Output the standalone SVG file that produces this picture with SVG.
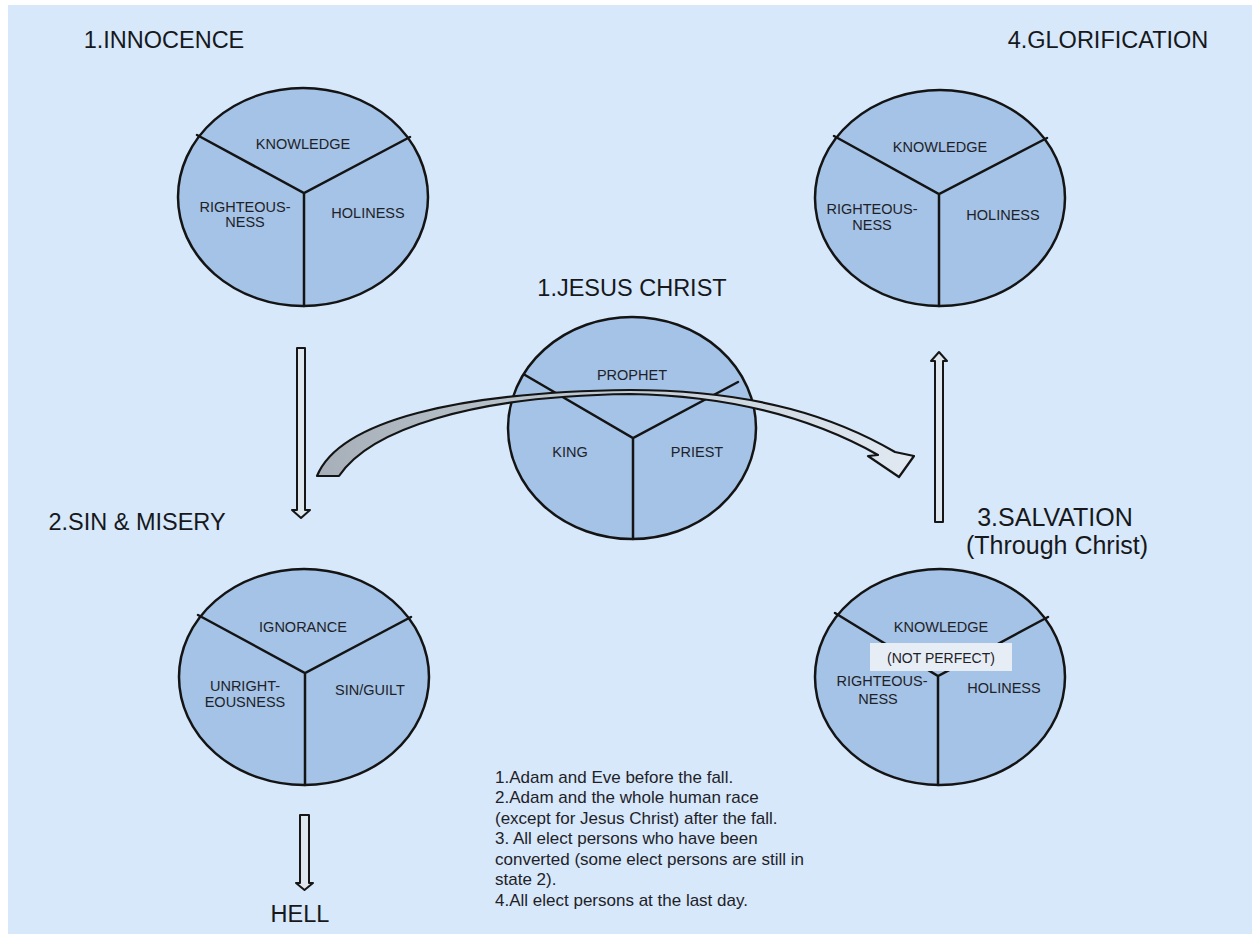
<svg xmlns="http://www.w3.org/2000/svg" width="1252" height="934" viewBox="0 0 1252 934">
<defs>
<style>
.bg{fill:#d7e8fa}
.c{fill:#a4c3e6;stroke:#141414;stroke-width:2.5}
.d{stroke:#141414;stroke-width:2.5;fill:none;stroke-linecap:round}
.lbl{font-family:"Liberation Sans",Arial,sans-serif;font-size:14.5px;fill:#1e2228;text-anchor:middle}
.ttl{font-family:"Liberation Sans",Arial,sans-serif;font-size:23.5px;fill:#16181c;text-anchor:middle}
.note{font-family:"Liberation Sans",Arial,sans-serif;font-size:17px;fill:#1e2228}
.ha{fill:#dfe7ef;stroke:#161616;stroke-width:2;stroke-linejoin:round}
.box{fill:#e6edf4}
</style>
<linearGradient id="cg" gradientUnits="userSpaceOnUse" x1="317" y1="0" x2="915" y2="0">
<stop offset="0" stop-color="#a7b0b8"/>
<stop offset="0.35" stop-color="#b9c3cc"/>
<stop offset="1" stop-color="#e1eaf3"/>
</linearGradient>
</defs>
<rect class="bg" x="8" y="5" width="1244" height="929"/>

<g id="title-innocence"><text class="ttl" x="164" y="48">1.INNOCENCE</text></g>
<g id="title-glorification"><text class="ttl" x="1108" y="48">4.GLORIFICATION</text></g>
<g id="title-jesus"><text class="ttl" x="632" y="296">1.JESUS CHRIST</text></g>
<g id="title-sin"><text class="ttl" x="137" y="530">2.SIN &amp; MISERY</text></g>
<g id="title-salvation"><text class="ttl" x="1055" y="526" style="font-size:25px">3.SALVATION</text><text class="ttl" x="1057" y="554" style="font-size:25px">(Through Christ)</text></g>
<g id="hell"><text class="ttl" x="300" y="922">HELL</text></g>

<g id="innocence">
<ellipse class="c" cx="303" cy="197" rx="125" ry="109"/>
<path class="d" d="M197,135 L304,193 L410,137 M304,193 V306"/>
<text class="lbl" x="303" y="149">KNOWLEDGE</text>
<text class="lbl" x="245" y="212">RIGHTEOUS-</text>
<text class="lbl" x="245" y="227">NESS</text>
<text class="lbl" x="368" y="218">HOLINESS</text>
</g>

<g id="glorification">
<ellipse class="c" cx="940" cy="198" rx="125" ry="108"/>
<path class="d" d="M834,136 L939,194 L1047,138 M939,194 V306"/>
<text class="lbl" x="940" y="152">KNOWLEDGE</text>
<text class="lbl" x="872" y="214">RIGHTEOUS-</text>
<text class="lbl" x="872" y="230">NESS</text>
<text class="lbl" x="1003" y="220">HOLINESS</text>
</g>

<g id="sin-misery">
<ellipse class="c" cx="304" cy="677" rx="125" ry="108"/>
<path class="d" d="M198,615 L305,673 L411,617 M305,673 V785"/>
<text class="lbl" x="303" y="632">IGNORANCE</text>
<text class="lbl" x="245" y="691">UNRIGHT-</text>
<text class="lbl" x="245" y="707">EOUSNESS</text>
<text class="lbl" x="370" y="695">SIN/GUILT</text>
</g>

<g id="salvation">
<ellipse class="c" cx="940" cy="677" rx="125" ry="108"/>
<path class="d" d="M835,613 L938,676 L1048,617 M938,676 V785"/>
<rect class="box" x="870" y="643" width="142" height="28"/>
<text class="lbl" x="941" y="632">KNOWLEDGE</text>
<text class="lbl" x="941" y="663" style="font-size:14px">(NOT PERFECT)</text>
<text class="lbl" x="882" y="686">RIGHTEOUS-</text>
<text class="lbl" x="878" y="704">NESS</text>
<text class="lbl" x="1004" y="693">HOLINESS</text>
</g>

<g id="jesus-christ">
<ellipse class="c" cx="632" cy="428" rx="124" ry="111"/>
<path class="d" d="M525,375 L633,438 L738,382 M633,438 V539"/>
<text class="lbl" x="632" y="380">PROPHET</text>
<text class="lbl" x="570" y="457">KING</text>
<text class="lbl" x="697" y="457">PRIEST</text>
</g>

<g id="connectors">
<path class="ha" d="M297,348 H305 V510 H310 L301,518 L292,510 H297 Z"/>
<path class="ha" d="M300,815 H309 V883 H313 L304.5,890 L296,883 H300 Z"/>
<path class="ha" d="M935,522 V361 H931 L939,352 L947,361 H943 V522 Z"/>
<path d="M317,476 C340,420 460,392 630,390 C760,390 840,420 895,452 L914,456 L899,477 L868,456 L878,455 C830,428 750,396 630,394 C470,396 370,430 339,476 Z" fill="url(#cg)" stroke="#141414" stroke-width="2.2" stroke-linejoin="round"/>
</g>

<g id="notes">
<text class="note" x="495" y="783">1.Adam and Eve before the fall.</text>
<text class="note" x="495" y="803">2.Adam and the whole human race</text>
<text class="note" x="495" y="824">(except for Jesus Christ) after the fall.</text>
<text class="note" x="495" y="844">3. All elect persons who have been</text>
<text class="note" x="495" y="865">converted (some elect persons are still in</text>
<text class="note" x="495" y="885">state 2).</text>
<text class="note" x="495" y="906">4.All elect persons at the last day.</text>
</g>
</svg>
